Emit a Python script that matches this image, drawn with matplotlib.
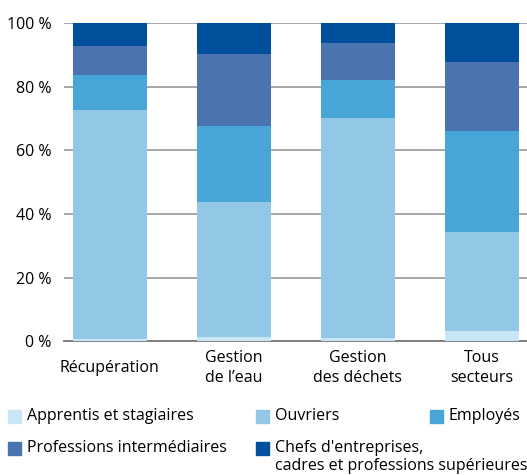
import numpy as np
import matplotlib.pyplot as plt
from matplotlib.patches import Rectangle

plt.rcParams['font.family'] = ['Open Sans', 'DejaVu Sans']

categories = ["Récupération", "Gestion\nde l\u2019eau", "Gestion\ndes déchets", "Tous\nsecteurs"]
series_names = ["Apprentis et stagiaires", "Ouvriers", "Employés",
                "Professions intermédiaires",
                "Chefs d'entreprises,\ncadres et professions supérieures"]
apprentis = [0.7, 1.5, 1.0, 3.2]
ouvriers = [72.0, 42.3, 69.2, 31.2]
employes = [11.0, 23.9, 12.0, 31.7]
prof_inter = [9.2, 22.6, 11.6, 21.7]
chefs = [7.1, 9.7, 6.2, 12.2]
colors = ["#c9e6f7", "#93c7e6", "#48a5d8", "#4a74b0", "#00509d"]
yticks = [0, 20, 40, 60, 80, 100]

series = [apprentis, ouvriers, employes, prof_inter, chefs]

fig = plt.figure(figsize=(5.27, 4.75), dpi=100)
ax = fig.add_axes([0.121, 0.2815, 0.879, 0.6695])

x = np.arange(len(categories))
bottom = np.zeros(len(categories))
for vals, col, name in zip(series, colors, series_names):
    ax.bar(x, vals, 0.6, bottom=bottom, color=col, label=name, zorder=3)
    bottom += np.array(vals)

ax.set_xlim(-0.371, 3.363)
ax.set_ylim(0, 100)
ax.set_yticks(yticks)
ax.set_yticklabels([f"{v} %" for v in yticks], fontsize=11.5)
ax.yaxis.grid(True, color="#a6a6a6", linewidth=1.4, zorder=0)
ax.tick_params(axis='y', length=0, pad=9)
ax.tick_params(axis='x', length=0, pad=19.5)
ax.set_xticks(x)
ax.set_xticklabels(categories, fontsize=11.5, linespacing=1.35)
for lab in ax.get_xticklabels():
    lab.set_va('center')
for s in ["top", "right", "left"]:
    ax.spines[s].set_visible(False)
ax.spines["bottom"].set_color("#808080")
ax.spines["bottom"].set_linewidth(1.4)
ax.set_axisbelow(True)

# legend drawn by hand (irregular layout)
leg_pos = [(8, 416), (256, 416), (430, 416), (8, 448), (256, 448)]
W, H = 527, 475
for (px, py), col, name in zip(leg_pos, colors, series_names):
    fig.patches.append(Rectangle((px / W, 1 - (py + 6.5) / H), 13 / W, 13 / H,
                                 transform=fig.transFigure, color=col))
    fig.text((px + 19) / W, 1 - (py - 8.5) / H, name, fontsize=11.5,
             va='top', ha='left', linespacing=1.25)

plt.savefig("out.png", dpi=100)
